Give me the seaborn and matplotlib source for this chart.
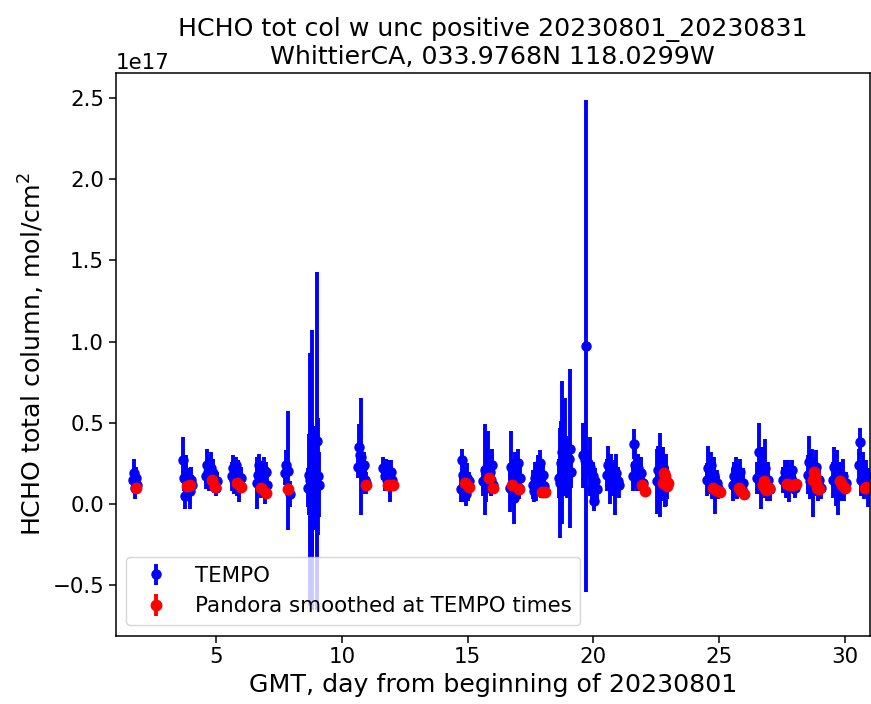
import matplotlib
matplotlib.use("Agg")
import matplotlib.pyplot as plt
import numpy as np
import seaborn as sns

# Column amounts below are stored in units of 1e16 molecules/cm^2
UNIT = 1e16

# TEMPO retrievals: GMT day of month, HCHO total column, uncertainty
tempo_day = [
    1.68, 1.72, 1.75, 1.78, 1.80, 1.84,
    3.66, 3.70, 3.74, 3.80, 3.85, 3.90, 3.95, 4.00, 4.04,
    4.58, 4.63, 4.68, 4.73, 4.78, 4.83, 4.88, 4.93, 4.98, 5.02,
    5.64, 5.68, 5.72, 5.77, 5.82, 5.87, 5.92, 5.97,
    6.62, 6.67, 6.72, 6.77, 6.82, 6.88, 6.93, 6.98, 7.02,
    7.74, 7.79, 7.86, 7.93,
    8.66, 8.70, 8.73, 8.76, 8.79, 8.82, 8.86, 8.90, 8.94, 8.99, 9.03, 9.07,
    10.62, 10.67, 10.71, 10.76, 10.81, 10.86, 10.90, 10.95,
    11.65, 11.70, 11.75, 11.80, 11.85, 11.90, 11.95, 12.00,
    14.72, 14.77, 14.82, 14.87, 14.92, 14.97, 15.02, 15.07,
    15.62, 15.67, 15.72, 15.77, 15.82, 15.87, 15.92, 15.97, 16.02,
    16.70, 16.74, 16.79, 16.84, 16.89, 16.94, 16.99, 17.04, 17.08,
    17.58, 17.63, 17.68, 17.73, 17.80, 17.86, 17.92, 17.98, 18.04,
    18.62, 18.67, 18.72, 18.77, 18.82, 18.87, 18.92, 18.97, 19.02, 19.06, 19.10,
    19.60, 19.66, 19.72, 19.77,
    19.88, 19.93, 19.98, 20.03, 20.08, 20.13,
    20.55, 20.60, 20.66, 20.72, 20.78, 20.84, 20.90, 20.96, 21.02,
    21.58, 21.62, 21.67, 21.72, 21.78, 21.84, 21.90, 21.96,
    22.53, 22.58, 22.63, 22.68, 22.73, 22.78, 22.83, 22.88, 22.94,
    24.52, 24.57, 24.62, 24.67, 24.72, 24.78, 24.84, 24.90, 24.96,
    25.56, 25.61, 25.66, 25.72, 25.78, 25.84, 25.90, 25.96,
    26.52, 26.57, 26.62, 26.67, 26.72, 26.78, 26.84, 26.90, 26.96, 27.02,
    27.56, 27.61, 27.67, 27.73, 27.79, 27.85, 27.91, 27.97, 28.03,
    28.53, 28.58, 28.63, 28.68, 28.74, 28.80, 28.86, 28.92, 28.98, 29.04,
    29.53, 29.58, 29.63, 29.68, 29.74, 29.80, 29.86, 29.92, 29.98, 30.04,
    30.55, 30.60, 30.66, 30.72, 30.78, 30.85, 30.92,
]
tempo_hcho = [
    1.5, 1.9, 1.4, 1.0, 1.6, 1.2,
    2.7, 1.6, 0.5, 2.0, 1.3, 1.1, 0.8, 1.5, 1.2,
    1.7, 2.4, 2.0, 1.6, 2.2, 1.5, 1.9, 1.3, 1.0, 1.4,
    1.7, 2.2, 1.5, 2.4, 1.3, 1.8, 1.0, 1.6,
    1.3, 1.8, 2.4, 1.0, 1.5, 2.1, 0.9, 2.0, 1.2,
    1.9, 2.4, 2.05, 0.6,
    1.0, 1.8, 1.5, 1.7, 2.1, 0.9, 1.9, 1.6, 0.8, 3.9, 1.7, 1.2,
    2.3, 3.5, 3.0, 2.9, 2.2, 2.4, 1.5, 1.3,
    2.2, 1.7, 2.3, 1.5, 1.9, 1.1, 2.0, 1.5,
    0.9, 2.7, 1.8, 1.2, 0.6, 1.6, 1.0, 1.4,
    1.4, 2.1, 1.0, 2.3, 3.0, 2.0, 1.5, 2.4, 1.2,
    1.0, 2.3, 1.8, 0.4, 2.1, 1.5, 2.5, 1.0, 1.6,
    1.2, 0.8, 1.6, 1.0, 2.0, 2.5, 1.3, 1.8, 1.1,
    1.6, 1.3, 2.5, 3.2, 2.0, 3.5, 2.4, 1.4, 2.8, 3.4, 2.0,
    3.0, 2.7, 9.75, 2.5,
    2.3, 1.0, 1.7, 0.2, 1.4, 0.9,
    1.8, 2.4, 1.3, 2.0, 1.5, 1.0, 1.9, 1.4, 1.2,
    1.7, 3.7, 2.4, 1.6, 2.2, 1.4, 1.9, 1.3,
    1.4, 2.1, 1.8, 1.2, 1.6, 2.3, 1.0, 1.5, 1.3,
    1.5, 2.2, 1.6, 2.4, 1.2, 1.8, 0.7, 1.3, 1.0,
    1.2, 1.7, 2.2, 1.0, 1.5, 2.0, 0.9, 1.3,
    1.6, 3.2, 2.0, 1.3, 2.4, 1.7, 2.2, 1.1, 1.5, 0.9,
    1.5, 2.0, 1.2, 1.8, 1.0, 1.6, 2.1, 1.3, 1.0,
    1.8, 2.6, 1.4, 2.1, 1.0, 1.7, 2.3, 1.2, 1.5, 1.0,
    1.5, 2.3, 1.2, 1.9, 0.8, 1.6, 1.1, 1.7, 1.0, 1.3,
    2.4, 3.8, 1.5, 2.1, 1.3, 1.8, 1.0,
]
tempo_unc = [
    0.6, 0.9, 0.8, 0.7, 0.7, 0.5,
    1.4, 0.8, 0.8, 1.0, 0.9, 0.7, 1.1, 0.8, 0.6,
    0.8, 1.0, 0.9, 0.8, 1.0, 0.7, 0.9, 0.6, 0.5, 0.6,
    0.9, 0.8, 0.9, 0.5, 0.8, 0.9, 0.9, 0.7,
    1.6, 1.0, 0.7, 0.6, 0.9, 0.8, 0.9, 0.6, 0.6,
    0.7, 0.9, 3.65, 0.8,
    1.2, 2.5, 7.8, 3.0, 8.6, 4.0, 2.0, 3.2, 1.5, 10.4, 3.6, 2.0,
    0.7, 1.4, 0.8, 3.6, 1.0, 0.8, 0.9, 0.7,
    0.7, 0.9, 0.5, 0.7, 0.8, 1.0, 0.7, 0.6,
    0.8, 0.7, 1.0, 1.1, 0.7, 0.9, 0.8, 0.6,
    0.9, 2.8, 0.9, 1.6, 1.5, 1.1, 1.0, 1.0, 0.6,
    1.5, 2.2, 1.0, 1.6, 1.1, 0.8, 0.9, 0.7, 0.8,
    0.9, 0.7, 1.0, 0.8, 1.0, 0.8, 0.9, 0.8, 0.7,
    1.2, 3.4, 2.6, 4.4, 1.5, 3.0, 1.8, 1.0, 1.2, 4.9, 1.0,
    2.0, 1.1, 15.15, 0.8,
    1.8, 1.0, 0.9, 0.6, 0.8, 0.7,
    1.0, 1.2, 1.3, 1.1, 1.0, 1.7, 1.2, 0.9, 0.8,
    0.9, 0.9, 1.4, 0.8, 0.9, 0.6, 1.0, 0.5,
    2.0, 1.5, 2.6, 1.0, 1.3, 1.2, 1.2, 1.6, 1.0,
    1.0, 1.4, 1.0, 0.8, 0.9, 1.1, 1.3, 0.8, 0.7,
    1.0, 0.9, 0.7, 0.7, 0.8, 0.8, 0.5, 0.9,
    1.0, 1.8, 1.4, 1.6, 1.1, 0.9, 1.8, 0.9, 1.1, 0.7,
    0.8, 0.7, 0.8, 0.9, 0.9, 0.8, 0.6, 0.7, 0.6,
    1.2, 1.6, 1.1, 1.3, 1.8, 1.2, 1.0, 1.0, 0.9, 0.7,
    1.1, 1.2, 1.3, 1.4, 1.5, 1.0, 0.9, 1.1, 0.8, 0.7,
    1.0, 0.9, 1.0, 1.1, 1.0, 0.9, 1.2,
]

# Pandora columns smoothed and sampled at TEMPO times
pandora_day = [
    1.80, 3.84, 3.95, 4.85, 4.97, 5.84, 6.00, 6.80, 6.98, 7.84,
    10.95, 11.84, 12.04, 14.89, 15.06, 15.86, 16.01, 16.75, 17.05,
    17.94, 18.07, 21.95, 22.05,
    22.76, 22.80, 22.84, 22.88, 22.92, 22.96,
    24.76, 24.88, 25.03, 25.79, 25.86, 25.98,
    26.76, 26.80, 26.84, 26.88, 26.94, 27.00,
    27.70, 27.82, 27.94, 28.04,
    28.74, 28.78, 28.82, 28.86, 28.90, 28.96,
    29.80, 29.90, 30.00, 30.79, 30.90,
]
pandora_hcho = [
    1.0, 1.1, 1.15, 1.5, 1.05, 1.3, 1.05, 1.0, 0.7, 0.95,
    1.2, 1.2, 1.15, 1.3, 1.05, 1.6, 1.0, 1.2, 0.9,
    0.75, 0.75, 1.2, 0.8,
    1.3, 1.9, 1.7, 1.4, 1.1, 1.3,
    1.0, 0.85, 0.75, 1.0, 0.8, 0.6,
    1.2, 1.4, 1.0, 0.85, 0.9, 1.0,
    1.25, 1.2, 1.2, 1.25,
    1.5, 2.0, 1.7, 1.3, 1.0, 0.9,
    1.45, 1.2, 1.0, 1.0, 1.05,
]
pandora_unc = [
    0.15, 0.15, 0.15, 0.15, 0.15, 0.15, 0.15, 0.15, 0.15, 0.15,
    0.15, 0.15, 0.15, 0.15, 0.15, 0.15, 0.15, 0.15, 0.15,
    0.15, 0.15, 0.15, 0.15,
    0.15, 0.2, 0.2, 0.15, 0.15, 0.15,
    0.15, 0.15, 0.15, 0.15, 0.15, 0.15,
    0.15, 0.15, 0.15, 0.15, 0.15, 0.15,
    0.15, 0.15, 0.15, 0.15,
    0.15, 0.2, 0.2, 0.15, 0.15, 0.15,
    0.15, 0.15, 0.15, 0.15, 0.15,
]

TICK_FS = 15.4
LABEL_FS = 18.2

sns.set_theme(context="notebook", style="ticks")
plt.rcParams.update({
    "font.family": ["DejaVu Sans"],
    "axes.edgecolor": "black",
    "axes.linewidth": 1.1,
    "text.color": "black",
    "axes.labelcolor": "black",
    "xtick.color": "black",
    "ytick.color": "black",
    "xtick.major.size": 4.9,
    "ytick.major.size": 4.9,
    "xtick.major.width": 1.1,
    "ytick.major.width": 1.1,
    "xtick.labelsize": TICK_FS,
    "ytick.labelsize": TICK_FS,
})

fig = plt.figure(figsize=(8.71, 7.04), dpi=100)
ax = fig.add_axes([0.1328, 0.097, 0.866, 0.7997])

ax.errorbar(np.array(tempo_day), np.array(tempo_hcho) * UNIT,
            yerr=np.array(tempo_unc) * UNIT, fmt="o", color="blue",
            ecolor="blue", elinewidth=2.8, markersize=6.5, label="TEMPO")
ax.errorbar(np.array(pandora_day), np.array(pandora_hcho) * UNIT,
            yerr=np.array(pandora_unc) * UNIT, fmt="o", color="red",
            ecolor="red", elinewidth=2.8, markersize=7.5,
            label="Pandora smoothed at TEMPO times")

ax.set_xlim(1, 31)
ax.set_ylim(-0.81e17, 2.655e17)
ax.set_xticks([5, 10, 15, 20, 25, 30])
ax.set_yticks([-0.5e17, 0, 0.5e17, 1.0e17, 1.5e17, 2.0e17, 2.5e17])
ax.yaxis.get_offset_text().set_fontsize(TICK_FS)

ax.set_xlabel("GMT, day from beginning of 20230801", fontsize=LABEL_FS)
ax.set_ylabel("HCHO total column, mol/cm$^2$", fontsize=LABEL_FS)
ax.set_title("HCHO tot col w unc positive 20230801_20230831\n"
             "WhittierCA, 033.9768N 118.0299W", fontsize=LABEL_FS)
ax.legend(loc="lower left", fontsize=TICK_FS)

fig.savefig("out.png", dpi=100)
